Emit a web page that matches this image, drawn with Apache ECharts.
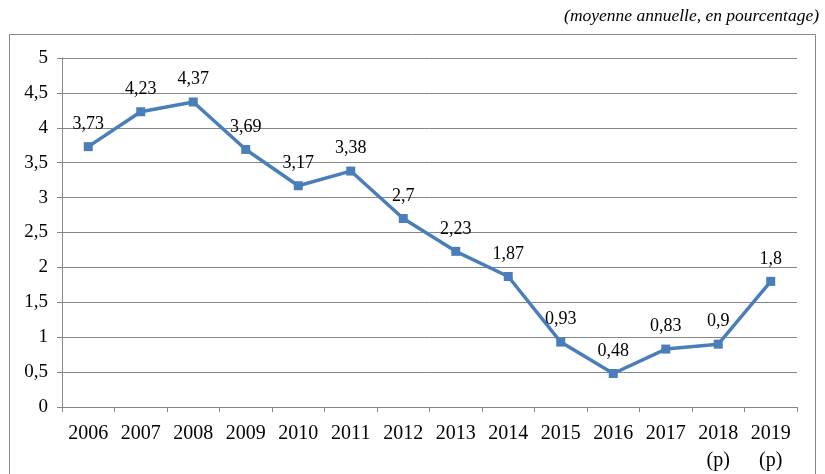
<html>
<head>
    <meta charset="utf-8" />
    <script src="https://cdn.jsdelivr.net/npm/echarts@6/dist/echarts.min.js"></script>
</head>
<body style="margin:0">
    <div id="chart" style="width:825px;height:474px"></div>
    <script>
        // années et taux moyen annuel
        var years = ['2006', '2007', '2008', '2009', '2010', '2011', '2012', '2013', '2014', '2015', '2016', '2017', '2018\n(p)', '2019\n(p)'];
        var values = [3.73, 4.23, 4.37, 3.69, 3.17, 3.38, 2.7, 2.23, 1.87, 0.93, 0.48, 0.83, 0.9, 1.8];
        var note = '(moyenne annuelle, en pourcentage)';

        var chart = echarts.init(document.getElementById('chart'));
        var serif = '"Liberation Serif", "Times New Roman", serif';
        option = {
            animation: false,
            textStyle: { fontFamily: serif },
            title: {
                text: note,
                right: 1,
                top: 2,
                textStyle: { fontFamily: serif, fontStyle: 'italic', fontWeight: 'normal', fontSize: 17.5, color: '#000' }
            },
            graphic: [{
                type: 'rect',
                shape: { x: 9.5, y: 34.5, width: 806, height: 460 },
                style: { fill: 'none', stroke: '#888', lineWidth: 1 }
            }],
            grid: { left: 62, right: 28, top: 58, bottom: 64 },
            xAxis: {
                type: 'category',
                data: years,
                boundaryGap: true,
                axisLine: { lineStyle: { color: '#868686', width: 1 } },
                axisTick: { show: true, length: 5, lineStyle: { color: '#868686' } },
                axisLabel: { color: '#000', fontSize: 20, margin: 13, lineHeight: 27, fontFamily: serif, interval: 0 }
            },
            yAxis: {
                type: 'value',
                min: 0,
                max: 5,
                interval: 0.5,
                axisLine: { show: true, lineStyle: { color: '#868686', width: 1 } },
                axisTick: { show: true, length: 5, lineStyle: { color: '#868686' } },
                splitLine: { lineStyle: { color: '#868686', width: 1 } },
                axisLabel: {
                    color: '#000', fontSize: 19, margin: 14, fontFamily: serif,
                    formatter: function (v) { return String(v).replace('.', ','); }
                }
            },
            series: [{
                type: 'line',
                data: values,
                symbol: 'rect',
                symbolSize: 9,
                lineStyle: { color: '#4a7ebb', width: 3.5 },
                itemStyle: { color: '#4a7ebb' },
                label: {
                    show: true,
                    position: 'top',
                    distance: 9,
                    color: '#000',
                    fontSize: 18,
                    fontFamily: serif,
                    formatter: function (p) { return String(p.value).replace('.', ','); }
                }
            }]
        };
        chart.setOption(option);
    </script>
</body>
</html>
